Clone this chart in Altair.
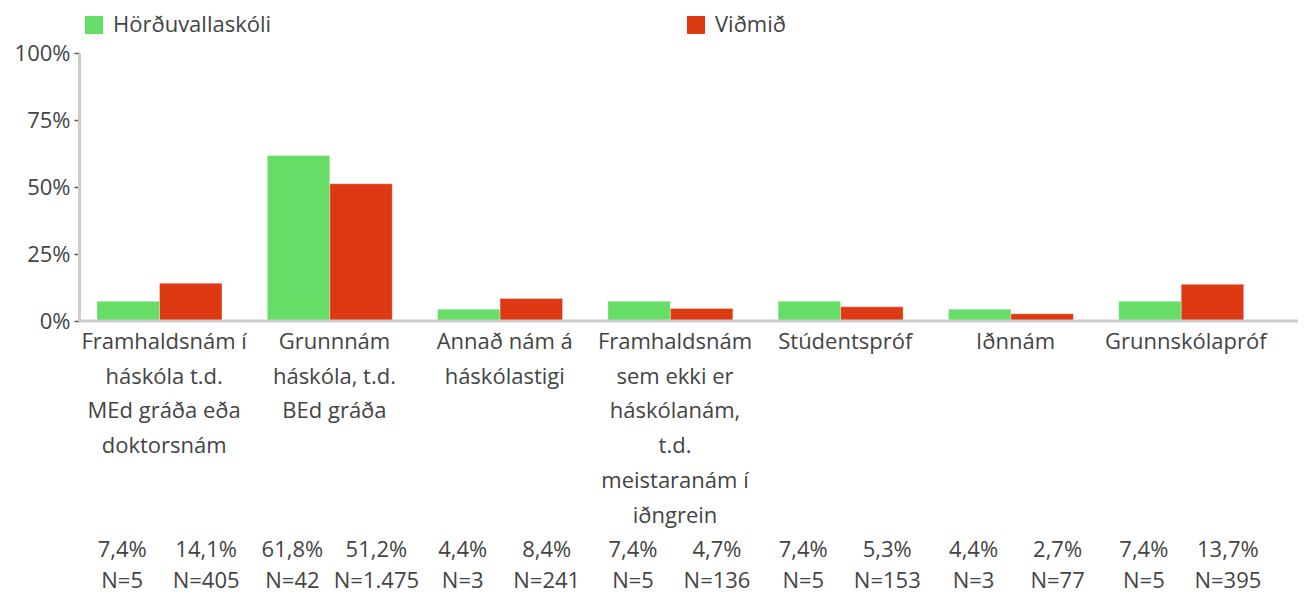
import altair as alt
import pandas as pd

categories = ["Framhaldsnám í háskóla", "Grunnnám háskóla", "Annað nám á háskólastigi",
              "Framhaldsnám ekki háskólanám", "Stúdentspróf", "Iðnnám", "Grunnskólapróf"]
cat_labels = [
    "Framhaldsnám í\nháskóla t.d.\nMEd gráða eða\ndoktorsnám",
    "Grunnnám\nháskóla, t.d.\nBEd gráða",
    "Annað nám á\nháskólastigi",
    "Framhaldsnám\nsem ekki er\nháskólanám,\nt.d.\nmeistaranám í\niðngrein",
    "Stúdentspróf",
    "Iðnnám",
    "Grunnskólapróf",
]
series = ["Hörðuvallaskóli", "Viðmið"]
school_pct = [7.4, 61.8, 4.4, 7.4, 7.4, 4.4, 7.4]
school_n = [5, 42, 3, 5, 5, 3, 5]
ref_pct = [14.1, 51.2, 8.4, 4.7, 5.3, 2.7, 13.7]
ref_n = [405, 1475, 241, 136, 153, 77, 395]
colors = ["#66DD66", "#DD3A14"]
y_ticks = [0, 0.25, 0.5, 0.75, 1.0]

FONT = "Open Sans"
FS = 22
TXT = "#444444"


def fmt_pct(v):
    return f"{v:.1f}".replace(".", ",") + "%"


def fmt_n(n):
    return "N=" + f"{n:,}".replace(",", ".")


rows = []
for i, c in enumerate(categories):
    for s, pcts, ns in ((series[0], school_pct, school_n), (series[1], ref_pct, ref_n)):
        rows.append({"cat": c, "series": s, "value": pcts[i] / 100,
                     "pct": fmt_pct(pcts[i]), "n": fmt_n(ns[i])})
df = pd.DataFrame(rows)
cat_df = pd.DataFrame({"cat": categories, "label": cat_labels})

W, H = 1192, 268

x_enc = alt.X("cat:N", sort=categories,
              scale=alt.Scale(domain=categories, paddingInner=0, paddingOuter=0),
              axis=None)

bars = alt.Chart(df).mark_bar(stroke="#ffffff", strokeOpacity=0.35, strokeWidth=1).encode(
    x=x_enc,
    xOffset=alt.XOffset("series:N", sort=series,
                        scale=alt.Scale(domain=series, range=[18, 143], paddingInner=0, paddingOuter=0)),
    y=alt.Y("value:Q", scale=alt.Scale(domain=[0, 1]),
            axis=alt.Axis(values=y_ticks, format="%", title=None, grid=False,
                          domainColor="#cccccc", domainWidth=3, tickColor="#555555",
                          tickSize=5, tickWidth=1.5, labelFontSize=FS, labelColor=TXT,
                          labelFont=FONT, labelPadding=4)),
    color=alt.Color("series:N", sort=series,
                    scale=alt.Scale(domain=series, range=colors),
                    legend=alt.Legend(title=None, orient="none", legendX=4, legendY=-39,
                                      direction="horizontal", columns=2,
                                      symbolType="square", symbolSize=324,
                                      symbolStrokeWidth=0, labelFontSize=FS,
                                      labelColor=TXT, labelFont=FONT,
                                      columnPadding=413, labelOffset=8)),
)

baseline = alt.Chart(pd.DataFrame({"a": [0]})).mark_rule(color="#cccccc", strokeWidth=3).encode(
    x=alt.value(0), x2=alt.value(1219), y=alt.value(H)
)

cat_text = alt.Chart(cat_df).mark_text(
    baseline="top", lineBreak="\n", fontSize=FS, color=TXT, font=FONT, lineHeight=34.7
).encode(x=x_enc, y=alt.value(279), text="label:N")

layers = [bars, baseline, cat_text]
for s, dx in ((series[0], -42), (series[1], 42)):
    base = alt.Chart(df).transform_filter(alt.datum.series == s)
    layers.append(base.mark_text(fontSize=FS, color=TXT, font=FONT, dx=dx, baseline="middle")
                  .encode(x=x_enc, y=alt.value(497), text="pct:N"))
    layers.append(base.mark_text(fontSize=FS, color=TXT, font=FONT, dx=dx, baseline="middle")
                  .encode(x=x_enc, y=alt.value(528), text="n:N"))

chart = alt.layer(*layers).properties(
    width=W, height=H,
    autosize=alt.AutoSizeParams(type="none"),
    padding={"left": 71, "top": 45, "right": 30, "bottom": 274},
).configure_view(stroke=None)

chart.save("out.html", embed_options={"renderer": "svg", "actions": False})
